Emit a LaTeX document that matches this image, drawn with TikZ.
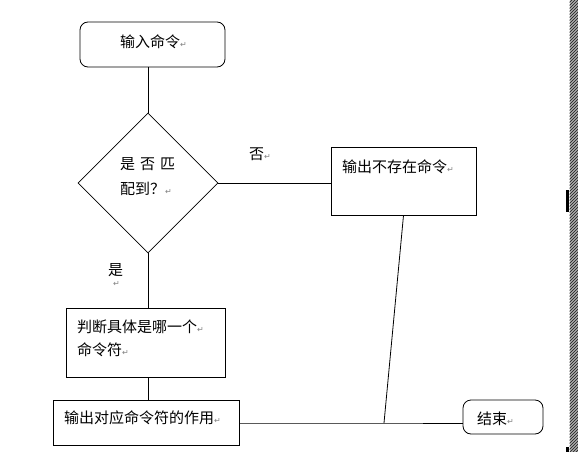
\documentclass[tikz,border=0pt]{standalone}
\usepackage{fontspec}
\newfontfamily\cjk{Noto Sans CJK SC}
\newfontfamily\dejavu{DejaVu Sans}
\usetikzlibrary{shapes.geometric}
\newcommand{\retmark}{{\color{gray}\fontsize{8}{8}\selectfont\dejavu ↵}}
\tikzset{
  box/.style={draw, line width=0.8pt, inner sep=0pt},
  rbox/.style={box, rounded corners=8pt},
  conn/.style={line width=0.8pt},
  txt/.style={anchor=west, inner sep=0pt, font=\cjk\fontsize{15}{17}\selectfont}
}
\begin{document}
\begin{tikzpicture}[x=1pt,y=-1pt]
\useasboundingbox (0,0) rectangle (578,452);
\fill[white] (0,0) rectangle (578,452);
% page edge strip
\fill[black!25] (569.5,0) rectangle (578,452);
\begin{scope}
\clip (569.5,0) rectangle (578,452);
\foreach \k in {0,3,...,465} {
  \draw[line width=0.9pt, black!80] (569,\k) -- +(10,-10);
}
\end{scope}
\fill[black] (566,190) rectangle (568.5,212);
\fill[black] (566,447) rectangle (568.5,452);
% shapes
\node[rbox, minimum width=145pt, minimum height=45pt] (start) at (152.5,44.5) {};
\node[box, diamond, minimum width=140pt, minimum height=140pt] (dia) at (148,183) {};
\node[box, minimum width=145pt, minimum height=68pt] (nocmd) at (403.5,181) {};
\node[box, minimum width=159pt, minimum height=69pt] (judge) at (145.5,342.5) {};
\node[box, minimum width=186pt, minimum height=45pt] (out) at (146,422.5) {};
\node[rbox, minimum width=80pt, minimum height=34pt] (stop) at (503,417) {};
\coordinate (j) at (384,423);
% texts
\node[txt] (t1) at (120,42) {输入命令\retmark};
\node[txt] (t2a) at (120,164) {是\hspace{5pt}否\hspace{5pt}匹};
\node[txt] (t2b) at (120,189) {配到？\retmark};
\node[txt] (tno) at (249,154) {否\retmark};
\node[txt] (t3) at (342,167) {输出不存在命令\retmark};
\node[txt] (tyes) at (108,270) {是};
\node[anchor=west, inner sep=0pt] (tyesr) at (113,284) {\retmark};
\node[txt] (t4a) at (77,327) {判断具体是哪一个\retmark};
\node[txt] (t4b) at (77,350) {命令符\retmark};
\node[txt] (t5) at (64,418) {输出对应命令符的作用\retmark};
\node[txt] (t6) at (477,419) {结束\retmark};
% connectors
\draw[conn] (dia.north |- start.south) -- (dia.north);
\draw[conn] (dia.east) -- (nocmd.west |- dia.east);
\draw[conn] (dia.south) -- (dia.south |- judge.north);
\draw[conn] (judge.south -| dia.south) -- (out.north -| dia.south);
\draw[conn] (out.east |- j) -- (j) -- (stop.west |- j);
\draw[conn] (nocmd.south) -- (j);
\end{tikzpicture}
\end{document}
